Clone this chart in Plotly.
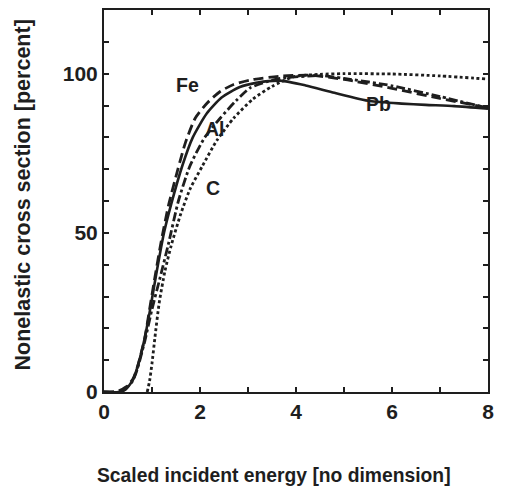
import plotly.graph_objects as go

# Data
pb_x = [0, 0.33, 0.45, 0.6, 0.7, 0.85, 0.95, 1.1, 1.25, 1.4, 1.63, 1.85, 2.14, 2.45, 2.83, 3.2, 3.67, 4.2, 4.8, 5.54, 6.2, 6.7, 7.3, 8.0]
pb_y = [0, 0, 0.8, 3.7, 8, 17, 25, 38, 50, 59, 71, 80, 87.5, 92.5, 95.8, 97.2, 97.8, 96.3, 94, 91.4, 90.6, 90.2, 89.8, 89]

fe_x = [0, 0.3, 0.45, 0.6, 0.7, 0.85, 0.95, 1.06, 1.2, 1.35, 1.54, 1.7, 1.9, 2.15, 2.42, 2.7, 3.04, 3.67, 4.3, 5.0, 6.0, 7.0, 8.0]
fe_y = [0, 0.3, 1.5, 4, 8, 17, 26, 36, 48, 59, 70, 78.5, 86, 90.8, 94.4, 96.6, 98, 99.2, 99.5, 98.2, 95.4, 92.2, 89.3]

al_x = [0, 0.33, 0.45, 0.6, 0.7, 0.85, 1.0, 1.17, 1.35, 1.55, 1.79, 2.1, 2.42, 2.75, 3.04, 3.4, 3.67, 4.5, 5.0, 6.0, 7.0, 8.0]
al_y = [0, 0, 1, 3.5, 7.5, 16, 26, 36, 47, 60, 71, 80, 86, 91.5, 95.5, 97.5, 98.5, 99.4, 98.5, 96.2, 92.8, 89.2]

c_x = [0.9, 0.95, 1.0, 1.06, 1.15, 1.27, 1.4, 1.6, 1.8, 2.05, 2.35, 2.7, 3.1, 3.5, 3.94, 4.5, 5.0, 6.0, 7.0, 8.0]
c_y = [0, 3.5, 9, 17, 28, 38, 46, 56, 64, 71, 79, 86, 92, 96, 99, 99.8, 100, 99.9, 99.3, 98.3]

labels = ["Fe", "Al", "C", "Pb"]
label_x = [1.73, 2.31, 2.27, 5.71]
label_y = [96.5, 82.5, 64, 90.6]

x_tickvals = [0, 2, 4, 6, 8]
y_tickvals = [0, 50, 100]

ink = "#1e1e1e"
fig = go.Figure()
fig.add_trace(go.Scatter(x=c_x, y=c_y, mode="lines", line=dict(color=ink, width=2.8, dash="3px,2.6px", shape="spline", smoothing=0.6)))
fig.add_trace(go.Scatter(x=al_x, y=al_y, mode="lines", line=dict(color=ink, width=2.8, dash="9px,3px,3px,3px", shape="spline", smoothing=0.6)))
fig.add_trace(go.Scatter(x=fe_x, y=fe_y, mode="lines", line=dict(color=ink, width=2.8, dash="10px,5px", shape="spline", smoothing=0.6)))
fig.add_trace(go.Scatter(x=pb_x, y=pb_y, mode="lines", line=dict(color=ink, width=2.6, shape="spline", smoothing=0.6)))

for t, lx, ly in zip(labels, label_x, label_y):
    fig.add_annotation(x=lx, y=ly, text=t, showarrow=False,
                       font=dict(family="Liberation Sans", size=19.5, color=ink, weight="bold"))

fig.add_annotation(xref="paper", yref="paper", x=-0.211, y=0.517, xanchor="center", yanchor="middle",
                   text="Nonelastic cross section [percent]",
                   textangle=-90, showarrow=False,
                   font=dict(family="Liberation Sans", size=21.5, color=ink, weight="bold"))
fig.add_annotation(xref="paper", yref="paper", x=0.444, y=-0.219, xanchor="center", yanchor="middle",
                   text="Scaled incident energy [no dimension]", showarrow=False,
                   font=dict(family="Liberation Sans", size=19.3, color=ink, weight="bold"))

axis_common = dict(showgrid=False, zeroline=False, showline=True, linecolor=ink, linewidth=2,
                   mirror="allticks", ticks="inside", ticklen=5, tickwidth=1.5, tickcolor=ink,
                   tickfont=dict(family="Liberation Sans", size=21, color=ink, weight="bold"))
fig.update_xaxes(range=[0, 8], tickvals=x_tickvals, ticklabelstandoff=0,
                 minor=dict(dtick=1, ticks="inside", ticklen=5, tickwidth=1.5, tickcolor=ink),
                 **axis_common)
fig.update_yaxes(range=[0, 120], tickvals=y_tickvals, ticklabelstandoff=0,
                 minor=dict(dtick=10, ticks="inside", ticklen=5, tickwidth=1.5, tickcolor=ink),
                 **axis_common)

fig.update_layout(width=521, height=493, margin=dict(l=104, r=33, t=8, b=101),
                  paper_bgcolor="white", plot_bgcolor="white", showlegend=False)
fig.write_html("out.html")
